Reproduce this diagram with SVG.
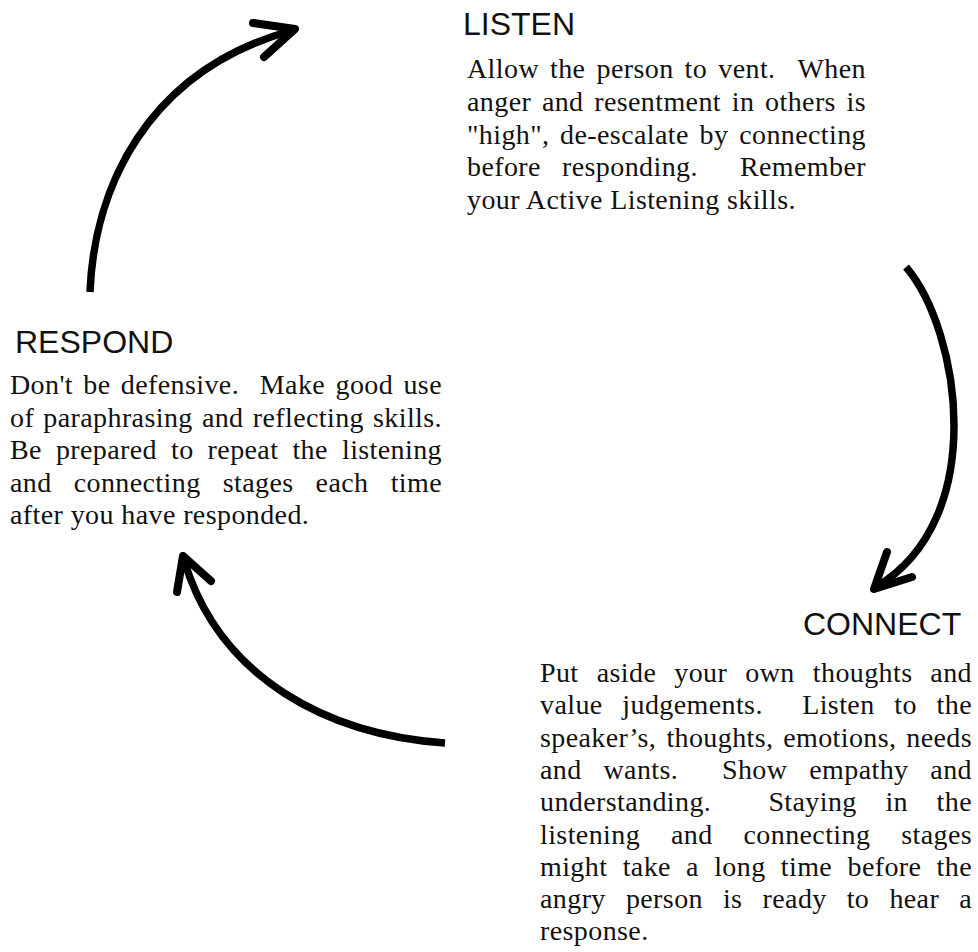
<svg xmlns="http://www.w3.org/2000/svg" width="978" height="952" viewBox="0 0 978 952">
  <style>
    .head { font-family: "Liberation Sans", Arial, sans-serif; font-size: 32px; fill: #111; }
    .body { font-family: "Liberation Serif", "Times New Roman", serif; font-size: 28px; letter-spacing: 0.4px; fill: #111; }
    .end { text-anchor: end; }
    .shaft { fill: none; stroke: #000; stroke-width: 7.5; stroke-linecap: butt; }
    .tip { fill: none; stroke: #000; stroke-width: 8; stroke-linecap: round; stroke-linejoin: round; }
  </style>
  <rect width="978" height="952" fill="#fff"/>

  <!-- cycle arrows -->
  <g id="connectors">
    <!-- respond -> listen -->
    <path class="shaft" d="M90,292 C94,190 145,72 290,31"/>
    <path class="tip" d="M253,23 L295,29 L264,57"/>
    <!-- listen -> connect -->
    <path class="shaft" d="M906,267 C960,330 990,520 876,587"/>
    <path class="tip" d="M887,552 L874,589 L912,577"/>
    <!-- connect -> respond -->
    <path class="shaft" d="M445,743 C330,735 220,680 184,560"/>
    <path class="tip" d="M177,592 L183,556 L211,581"/>
  </g>

  <!-- justified paragraphs: words placed individually, last word set flush right -->
  <g id="node-listen">
    <text class="head" x="463" y="35">LISTEN</text>
    <text class="body" y="78"><tspan x="467">Allow</tspan><tspan x="550">the</tspan><tspan x="596.5">person</tspan><tspan x="684.6">to</tspan><tspan x="718.3">vent.</tspan></text>
    <text class="body end" x="866" y="78">When</text>
    <text class="body" y="110.75"><tspan x="467">anger</tspan><tspan x="541.9">and</tspan><tspan x="594.2">resentment</tspan><tspan x="731.8">in</tspan><tspan x="765.1">others</tspan></text>
    <text class="body end" x="866" y="110.75">is</text>
    <text class="body" y="143.5"><tspan x="467">"high",</tspan><tspan x="560.1">de-escalate</tspan><tspan x="699.6">by</tspan></text>
    <text class="body end" x="866" y="143.5">connecting</text>
    <text class="body" y="176.25"><tspan x="467">before</tspan><tspan x="562">responding.</tspan></text>
    <text class="body end" x="866" y="176.25">Remember</text>
    <text class="body" x="467" y="209">your Active Listening skills.</text>
  </g>

  <g id="node-respond">
    <text class="head" x="15" y="353">RESPOND</text>
    <text class="body" y="394"><tspan x="10">Don't</tspan><tspan x="83.3">be</tspan><tspan x="120.8">defensive.</tspan><tspan x="259.8">Make</tspan><tspan x="335.5">good</tspan></text>
    <text class="body end" x="442" y="394">use</text>
    <text class="body" y="426.5"><tspan x="10">of</tspan><tspan x="43.3">paraphrasing</tspan><tspan x="201.9">and</tspan><tspan x="252.7">reflecting</tspan></text>
    <text class="body end" x="442" y="426.5">skills.</text>
    <text class="body" y="459"><tspan x="10">Be</tspan><tspan x="55.9">prepared</tspan><tspan x="171">to</tspan><tspan x="207.6">repeat</tspan><tspan x="292.4">the</tspan></text>
    <text class="body end" x="442" y="459">listening</text>
    <text class="body" y="491.5"><tspan x="10">and</tspan><tspan x="73.7">connecting</tspan><tspan x="222.7">stages</tspan><tspan x="315.6">each</tspan></text>
    <text class="body end" x="442" y="491.5">time</text>
    <text class="body" x="10" y="524">after you have responded.</text>
  </g>

  <g id="node-connect">
    <text class="head" x="803" y="635">CONNECT</text>
    <text class="body" y="682"><tspan x="540">Put</tspan><tspan x="596.7">aside</tspan><tspan x="674.3">your</tspan><tspan x="745.3">own</tspan><tspan x="812.8">thoughts</tspan></text>
    <text class="body end" x="972" y="682">and</text>
    <text class="body" y="714.3"><tspan x="540">value</tspan><tspan x="622.3">judgements.</tspan><tspan x="802.2">Listen</tspan><tspan x="894.3">to</tspan></text>
    <text class="body end" x="972" y="714.3">the</text>
    <text class="body" y="746.6"><tspan x="540">speaker’s,</tspan><tspan x="666.4">thoughts,</tspan><tspan x="783.2">emotions,</tspan></text>
    <text class="body end" x="972" y="746.6">needs</text>
    <text class="body" y="778.9"><tspan x="540">and</tspan><tspan x="603.5">wants.</tspan><tspan x="722">Show</tspan><tspan x="809.3">empathy</tspan></text>
    <text class="body end" x="972" y="778.9">and</text>
    <text class="body" y="811.2"><tspan x="540">understanding.</tspan><tspan x="768.4">Staying</tspan><tspan x="885.4">in</tspan></text>
    <text class="body end" x="972" y="811.2">the</text>
    <text class="body" y="843.5"><tspan x="540">listening</tspan><tspan x="671">and</tspan><tspan x="743.5">connecting</tspan></text>
    <text class="body end" x="972" y="843.5">stages</text>
    <text class="body" y="875.8"><tspan x="540">might</tspan><tspan x="622.7">take</tspan><tspan x="686.1">a</tspan><tspan x="714.2">long</tspan><tspan x="780.8">time</tspan><tspan x="847.5">before</tspan></text>
    <text class="body end" x="972" y="875.8">the</text>
    <text class="body" y="908.1"><tspan x="540">angry</tspan><tspan x="625.9">person</tspan><tspan x="722.9">is</tspan><tspan x="762.5">ready</tspan><tspan x="846.7">to</tspan><tspan x="889.4">hear</tspan></text>
    <text class="body end" x="972" y="908.1">a</text>
    <text class="body" x="540" y="940.4">response.</text>
  </g>
</svg>
